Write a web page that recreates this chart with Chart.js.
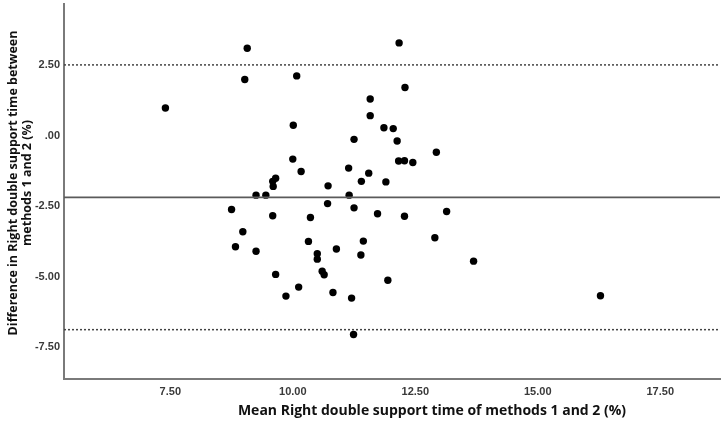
<!DOCTYPE html>
<html>
<head>
<meta charset="utf-8">
<script src="https://cdn.jsdelivr.net/npm/chart.js@4/dist/chart.umd.min.js"></script>
<style>
  html, body { margin: 0; padding: 0; background: #ffffff; }
  #wrap { width: 724px; height: 423px; }
</style>
</head>
<body>
<div id="wrap"><canvas id="c" width="724" height="423"></canvas></div>
<script>
// Mean of the two methods (x) and their difference (y)
const meanValues = [7.40, 9.07, 9.02, 9.25, 9.45, 9.59, 9.65, 9.60, 10.08, 12.17,
  12.29, 11.58, 11.58, 10.01, 11.86, 12.05, 11.25, 12.13, 12.93, 10.00,
  12.16, 12.28, 12.45, 10.17, 11.14, 11.55, 11.40, 11.90, 10.72, 11.15,
  10.71, 8.75, 9.59, 8.98, 8.83, 9.25, 9.65, 9.86, 10.12, 10.36,
  10.32, 10.50, 10.50, 10.60, 10.64, 10.89, 10.82, 11.25, 11.73, 12.28,
  11.44, 11.39, 11.94, 11.20, 11.24, 12.90, 13.14, 13.69, 16.28];
const diffValues = [0.99, 3.11, 2.00, -2.10, -2.10, -1.61, -1.50, -1.79, 2.13, 3.30,
  1.72, 1.31, 0.72, 0.38, 0.29, 0.26, -0.12, -0.18, -0.58, -0.82,
  -0.89, -0.88, -0.94, -1.26, -1.14, -1.32, -1.61, -1.63, -1.77, -2.10,
  -2.40, -2.61, -2.83, -3.40, -3.93, -4.09, -4.91, -5.68, -5.36, -2.89,
  -3.74, -4.18, -4.37, -4.80, -4.92, -4.01, -5.55, -2.55, -2.76, -2.85,
  -3.73, -4.22, -5.12, -5.75, -7.04, -3.61, -2.68, -4.44, -5.67];

// Bland-Altman reference lines
const meanDifference = -2.18;
const upperLimit = 2.52;
const lowerLimit = -6.87;

// Axis ranges and ticks
const xRange = [5.33, 18.72];
const yRange = [-8.62, 4.68];
const xTicks = [7.5, 10, 12.5, 15, 17.5];
const yTicks = [-7.5, -5, -2.5, 0, 2.5];

const xTitle = 'Mean Right double support time of methods 1 and 2 (%)';
const yTitle = ['Difference in Right double support time between', 'methods 1 and 2 (%)'];

function fmt(v) {
  let s = Math.abs(v).toFixed(2);
  if (s.startsWith('0')) s = s.slice(1);
  return (v < 0 ? '-' : '') + s;
}

const points = meanValues.map((x, i) => ({ x: x, y: diffValues[i] }));
const hLine = (v) => [{ x: xRange[0], y: v }, { x: xRange[1], y: v }];

const tickFont = { family: '"Liberation Sans Narrow", "Liberation Sans", Arial, sans-serif', size: 11, weight: 'bold' };

// Axis titles drawn as canvas text
const axisTitles = {
  id: 'axisTitles',
  afterDraw(chart) {
    const ctx = chart.ctx;
    ctx.save();
    ctx.fillStyle = '#111';
    ctx.textBaseline = 'middle';
    ctx.textAlign = 'center';
    ctx.font = 'bold 14px "Open Sans", sans-serif';
    ctx.fillText(xTitle, 432, 411);
    ctx.translate(0, 183);
    ctx.rotate(-Math.PI / 2);
    ctx.font = 'bold 12.5px "Open Sans", sans-serif';
    ctx.fillText(yTitle[0], 0, 13);
    ctx.fillText(yTitle[1], 0, 27);
    ctx.restore();
  }
};

new Chart(document.getElementById('c'), {
  type: 'scatter',
  data: {
    datasets: [
      { type: 'line', data: hLine(upperLimit), borderColor: '#444', borderWidth: 1.5, borderDash: [2, 2], pointRadius: 0, fill: false },
      { type: 'line', data: hLine(meanDifference), borderColor: '#5a5a5a', borderWidth: 1.6, pointRadius: 0, fill: false },
      { type: 'line', data: hLine(lowerLimit), borderColor: '#444', borderWidth: 1.5, borderDash: [2, 2], pointRadius: 0, fill: false },
      { data: points, backgroundColor: '#000', borderColor: '#000', pointRadius: 3.7, borderWidth: 0 }
    ]
  },
  plugins: [axisTitles],
  options: {
    responsive: false,
    animation: false,
    layout: { padding: { top: 0, right: 1, bottom: 0, left: 0 } },
    plugins: { legend: { display: false }, tooltip: { enabled: false } },
    scales: {
      x: {
        type: 'linear', min: xRange[0], max: xRange[1],
        afterFit: (s) => { s.height = 44; s.paddingLeft = 0; s.paddingRight = 0; },
        afterBuildTicks: (s) => { s.ticks = xTicks.map(v => ({ value: v })); },
        grid: { display: false, drawTicks: false },
        border: { display: true, color: '#7a7a7a', width: 2 },
        ticks: { callback: (v) => fmt(v), font: tickFont, color: '#3a3a3a', padding: 6, maxRotation: 0 },
        title: { display: false }
      },
      y: {
        type: 'linear', min: yRange[0], max: yRange[1],
        afterFit: (s) => { s.width = 64; s.paddingTop = 0; s.paddingBottom = 0; },
        afterBuildTicks: (s) => { s.ticks = yTicks.map(v => ({ value: v })); },
        grid: { display: false, drawTicks: false },
        border: { display: true, color: '#7a7a7a', width: 2 },
        ticks: { callback: (v) => fmt(v), font: tickFont, color: '#3a3a3a', padding: 4 },
        title: { display: false }
      }
    }
  }
});
</script>
</body>
</html>
